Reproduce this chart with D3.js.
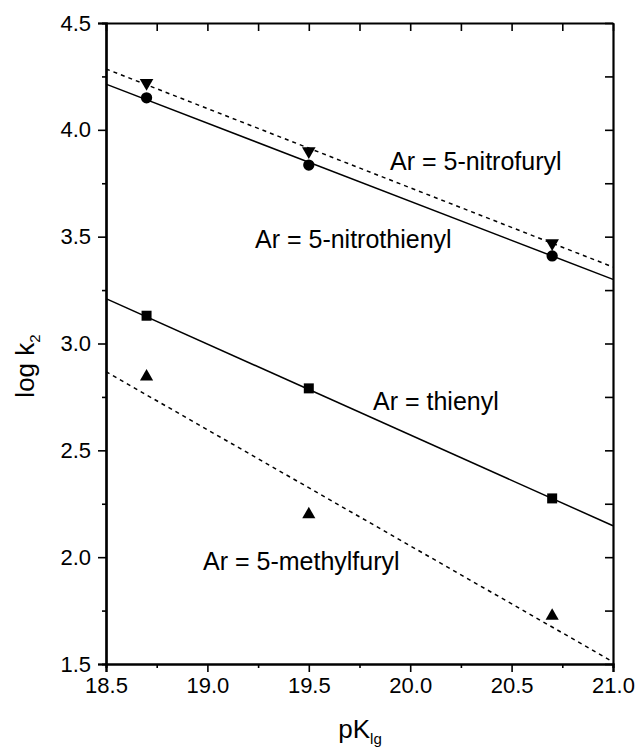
<!DOCTYPE html>
<html>
<head>
<meta charset="utf-8">
<script src="https://cdn.jsdelivr.net/npm/d3@7"></script>
<style>
  body { margin: 0; background: #fff; }
  text { font-family: "Liberation Sans", Arial, sans-serif; fill: #000; }
</style>
</head>
<body>
<div id="chart"></div>
<script>
// measured points (pK_lg vs log k2)
const pK = [18.7, 19.5, 20.7];
const nitrofuryl = [4.22, 3.90, 3.47];
const nitrothienyl = [4.15, 3.835, 3.41];
const thienyl = [3.13, 2.79, 2.275];
const methylfuryl = [2.845, 2.20, 1.725];

// fitted lines, end points at the axis limits
const fitX = [18.5, 21.0];
const fitNitrofuryl = [4.285, 3.358];
const fitNitrothienyl = [4.214, 3.30];
const fitThienyl = [3.21, 2.147];
const fitMethylfuryl = [2.868, 1.51];

const xTicks = [18.5, 19.0, 19.5, 20.0, 20.5, 21.0];
const yTicks = [1.5, 2.0, 2.5, 3.0, 3.5, 4.0, 4.5];

let svg = d3.select("#chart").append("svg").attr("width", 636).attr("height", 748);

let x = d3.scaleLinear().domain([18.5, 21.0]).range([106, 613]);
let y = d3.scaleLinear().domain([1.5, 4.5]).range([664, 23]);

let xMinor = d3.range(18.75, 21, 0.5);
let yMinor = d3.range(1.75, 4.5, 0.5);
let xAll = d3.range(18.5, 21.01, 0.25);
let yAll = d3.range(1.5, 4.51, 0.25);

function styleAxis(g) {
    g.select(".domain").attr("stroke-width", 2.2);
    g.selectAll(".tick line").attr("stroke-width", 1.6);
    g.selectAll(".tick text").style("font-size", "22px");
}

// bottom
svg.append("g").attr("transform", "translate(0,664)")
    .call(d3.axisBottom(x).tickValues(xTicks).tickSize(8).tickPadding(5).tickFormat(d3.format(".1f")))
    .call(styleAxis);
svg.append("g").attr("transform", "translate(0,664)")
    .call(d3.axisBottom(x).tickValues(xMinor).tickSize(4).tickFormat(""))
    .call(styleAxis);
// left
svg.append("g").attr("transform", "translate(106,0)")
    .call(d3.axisLeft(y).tickValues(yTicks).tickSize(8).tickPadding(7).tickFormat(d3.format(".1f")))
    .call(styleAxis);
svg.append("g").attr("transform", "translate(106,0)")
    .call(d3.axisLeft(y).tickValues(yMinor).tickSize(4).tickFormat(""))
    .call(styleAxis);
// top and right, inward ticks
svg.append("g").attr("transform", "translate(0,23)")
    .call(d3.axisTop(x).tickValues(xAll).tickSizeInner(-8).tickSizeOuter(0).tickFormat(""))
    .call(styleAxis);
svg.append("g").attr("transform", "translate(613,0)")
    .call(d3.axisRight(y).tickValues(yAll).tickSizeInner(-8).tickSizeOuter(0).tickFormat(""))
    .call(styleAxis);

// fit lines
let line = d3.line().x(d => x(d[0])).y(d => y(d[1]));
const fits = [
    [fitNitrofuryl, "4,4"],
    [fitNitrothienyl, null],
    [fitThienyl, null],
    [fitMethylfuryl, "4,4"]
];
fits.forEach(function(f) {
    svg.append("path")
        .datum(fitX.map((v, i) => [v, f[0][i]]))
        .attr("fill", "none")
        .attr("stroke", "#000")
        .attr("stroke-width", 1.5)
        .attr("stroke-dasharray", f[1])
        .attr("d", line);
});

// markers
const series = [
    [nitrofuryl, d3.symbolTriangle, 80, 180],
    [nitrothienyl, d3.symbolCircle, 100, 0],
    [thienyl, d3.symbolSquare, 100, 0],
    [methylfuryl, d3.symbolTriangle, 75, 0]
];
series.forEach(function(s) {
    svg.append("g").selectAll("path")
        .data(pK.map((v, i) => [v, s[0][i]]))
        .join("path")
        .attr("d", d3.symbol().type(s[1]).size(s[2]))
        .attr("fill", "#000")
        .attr("transform", d => "translate(" + x(d[0]) + "," + y(d[1]) + ") rotate(" + s[3] + ")");
});

// curve labels
const labels = [
    ["Ar = 5-nitrofuryl", 390, 170],
    ["Ar = 5-nitrothienyl", 255, 248],
    ["Ar = thienyl", 373, 410],
    ["Ar = 5-methylfuryl", 203, 570]
];
svg.append("g").selectAll("text")
    .data(labels)
    .join("text")
    .attr("x", d => d[1])
    .attr("y", d => d[2])
    .style("font-size", "25px")
    .text(d => d[0]);

// axis titles
let xt = svg.append("text")
    .attr("x", 360).attr("y", 738)
    .attr("text-anchor", "middle")
    .style("font-size", "26px");
xt.append("tspan").text("pK");
xt.append("tspan").attr("dy", 6).style("font-size", "15px").text("lg");

let yt = svg.append("text")
    .attr("transform", "translate(34,366) rotate(-90)")
    .attr("text-anchor", "middle")
    .style("font-size", "26px");
yt.append("tspan").text("log k");
yt.append("tspan").attr("dy", 6).style("font-size", "15px").text("2");
</script>
</body>
</html>
